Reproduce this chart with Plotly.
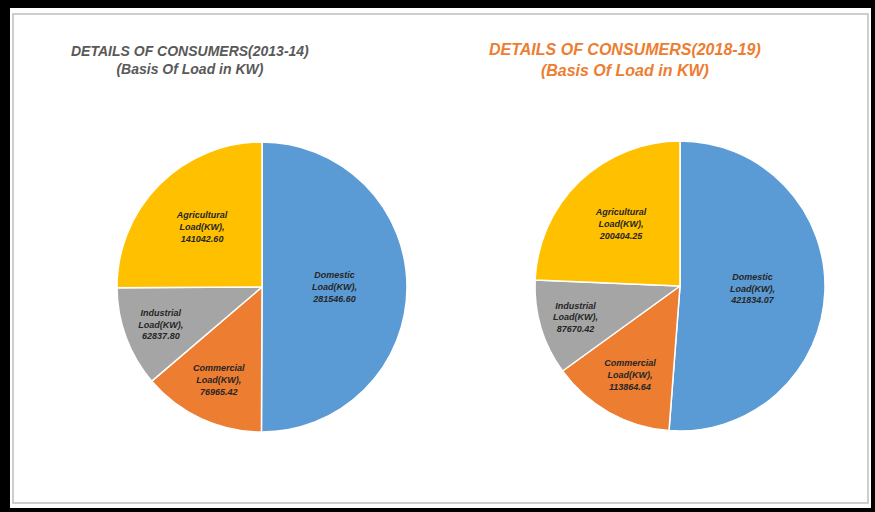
import plotly.graph_objects as go

W, H = 875, 512

categories = ["Domestic Load(KW)", "Commercial Load(KW)", "Industrial Load(KW)", "Agricultural Load(KW)"]
label_lines = ["Domestic<br>Load(KW),", "Commercial<br>Load(KW),", "Industrial<br>Load(KW),", "Agricultural<br>Load(KW),"]
values_2013 = [281546.60, 76965.42, 62837.80, 141042.60]
values_2018 = [421834.07, 113864.64, 87670.42, 200404.25]
colors = ["#5B9BD5", "#ED7D31", "#A5A5A5", "#FFC000"]
titles = ["DETAILS OF CONSUMERS(2013-14)<br>(Basis Of Load in KW)",
          "DETAILS OF CONSUMERS(2018-19)<br>(Basis Of Load in KW)"]
title_colors = ["#595959", "#ED7D31"]


def px_dom(x0, x1, y0, y1):
    return dict(x=[x0 / W, x1 / W], y=[1 - y1 / H, 1 - y0 / H])


fig = go.Figure()
for vals, dom in [(values_2013, px_dom(117, 407, 142, 432)),
                  (values_2018, px_dom(535, 825, 141, 431))]:
    fig.add_trace(go.Pie(
        labels=categories,
        values=vals,
        customdata=label_lines,
        sort=False,
        direction="clockwise",
        rotation=0,
        domain=dom,
        marker=dict(colors=colors, line=dict(color="white", width=1.5)),
        texttemplate="%{customdata}<br>%{value:.2f}",
        textposition="inside",
        insidetextorientation="horizontal",
        insidetextfont=dict(family="Liberation Sans, Arial", size=9,
                            color="#262626", weight="bold", style="italic"),
        showlegend=False,
        hoverinfo="label+value+percent",
    ))

shapes = [
    dict(type="rect", xref="paper", yref="paper", x0=10 / W, x1=871 / W,
         y0=1 - 508 / H, y1=1 - 8 / H, fillcolor="white", line=dict(width=0), layer="below"),
    dict(type="rect", xref="paper", yref="paper", x0=13 / W, x1=868 / W,
         y0=1 - 503 / H, y1=1 - 14 / H, fillcolor="white",
         line=dict(color="#BFBFBF", width=1.5), layer="below"),
]

annotations = []
for t, c, xc, sz, yc in zip(titles, title_colors, [190, 625], [14, 16], [60, 60]):
    annotations.append(dict(
        text=t, x=xc / W, y=1 - yc / H, xref="paper", yref="paper",
        xanchor="center", yanchor="middle", showarrow=False, align="center",
        font=dict(family="Liberation Sans, Arial", size=sz,
                  color=c, weight="bold", style="italic"),
    ))

fig.update_layout(
    width=W, height=H,
    margin=dict(l=0, r=0, t=0, b=0),
    paper_bgcolor="black",
    plot_bgcolor="white",
    shapes=shapes,
    annotations=annotations,
)

fig.write_html("out.html")
